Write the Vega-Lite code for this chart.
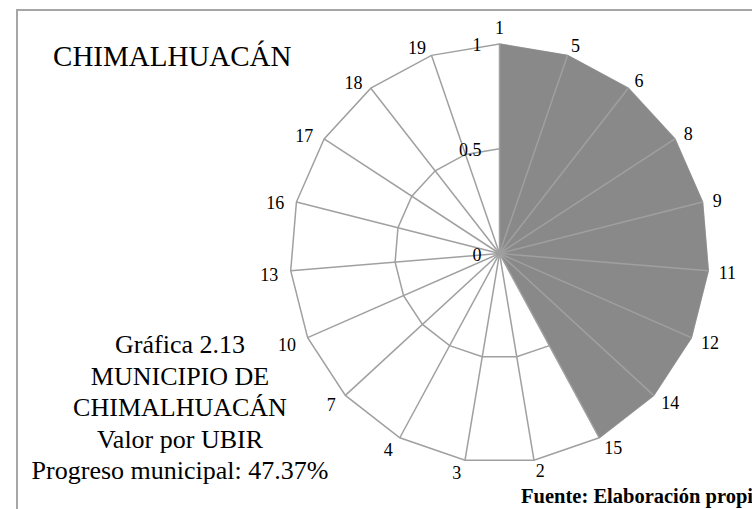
{
  "$schema": "https://vega.github.io/schema/vega-lite/v6.json",
  "width": 740,
  "height": 505,
  "autosize": {"type": "none"},
  "padding": {"left": 17, "top": 10, "right": 0, "bottom": 0},
  "background": "white",
  "config": {
    "view": {"stroke": "#a6a6a6", "strokeWidth": 2},
    "font": "Liberation Serif"
  },
  "datasets": {
    "radar": [
      {"cat": "1", "idx": 0, "value": 1},
      {"cat": "5", "idx": 1, "value": 1},
      {"cat": "6", "idx": 2, "value": 1},
      {"cat": "8", "idx": 3, "value": 1},
      {"cat": "9", "idx": 4, "value": 1},
      {"cat": "11", "idx": 5, "value": 1},
      {"cat": "12", "idx": 6, "value": 1},
      {"cat": "14", "idx": 7, "value": 1},
      {"cat": "15", "idx": 8, "value": 1},
      {"cat": "2", "idx": 9, "value": 0},
      {"cat": "3", "idx": 10, "value": 0},
      {"cat": "4", "idx": 11, "value": 0},
      {"cat": "7", "idx": 12, "value": 0},
      {"cat": "10", "idx": 13, "value": 0},
      {"cat": "13", "idx": 14, "value": 0},
      {"cat": "16", "idx": 15, "value": 0},
      {"cat": "17", "idx": 16, "value": 0},
      {"cat": "18", "idx": 17, "value": 0},
      {"cat": "19", "idx": 18, "value": 0}
    ],
    "ticks": [{"tick": 0}, {"tick": 0.5}, {"tick": 1}],
    "notes": [{"title": "CHIMALHUACÁN", "source": "Fuente: Elaboración propia", "block": ["Gráfica 2.13", "MUNICIPIO DE", "CHIMALHUACÁN", "Valor por UBIR", "Progreso municipal: 47.37%"]}]
  },
  "layer": [
    {
      "data": {"name": "radar"},
      "transform": [
        {"calculate": "2*PI*datum.idx/19", "as": "a"},
        {"calculate": "0.5*sin(datum.a)", "as": "px"},
        {"calculate": "0.5*cos(datum.a)", "as": "py"}
      ],
      "mark": {"type": "line", "interpolate": "linear-closed", "stroke": "#a0a0a0", "strokeWidth": 1.5},
      "encoding": {
        "x": {"field": "px", "type": "quantitative", "scale": {"domain": [-2.3031, 1.2291], "nice": false, "zero": false}, "axis": null},
        "y": {"field": "py", "type": "quantitative", "scale": {"domain": [-1.2482, 1.1623], "nice": false, "zero": false}, "axis": null},
        "order": {"field": "idx", "type": "quantitative"}
      }
    },
    {
      "data": {"name": "radar"},
      "transform": [
        {"calculate": "2*PI*datum.idx/19", "as": "a"},
        {"calculate": "sin(datum.a)", "as": "px"},
        {"calculate": "cos(datum.a)", "as": "py"}
      ],
      "mark": {"type": "line", "interpolate": "linear-closed", "stroke": "#a0a0a0", "strokeWidth": 1.5},
      "encoding": {
        "x": {"field": "px", "type": "quantitative", "scale": {"domain": [-2.3031, 1.2291], "nice": false, "zero": false}, "axis": null},
        "y": {"field": "py", "type": "quantitative", "scale": {"domain": [-1.2482, 1.1623], "nice": false, "zero": false}, "axis": null},
        "order": {"field": "idx", "type": "quantitative"}
      }
    },
    {
      "data": {"name": "radar"},
      "transform": [
        {"calculate": "2*PI*datum.idx/19", "as": "a"},
        {"calculate": "datum.value*sin(datum.a)", "as": "px"},
        {"calculate": "datum.value*cos(datum.a)", "as": "py"}
      ],
      "mark": {"type": "line", "interpolate": "linear-closed", "fill": "#898989", "stroke": "#898989", "strokeWidth": 0.5},
      "encoding": {
        "x": {"field": "px", "type": "quantitative", "scale": {"domain": [-2.3031, 1.2291], "nice": false, "zero": false}, "axis": null},
        "y": {"field": "py", "type": "quantitative", "scale": {"domain": [-1.2482, 1.1623], "nice": false, "zero": false}, "axis": null},
        "order": {"field": "idx", "type": "quantitative"}
      }
    },
    {
      "data": {"name": "radar"},
      "transform": [
        {"calculate": "2*PI*datum.idx/19", "as": "a"},
        {"calculate": "sin(datum.a)", "as": "px"},
        {"calculate": "cos(datum.a)", "as": "py"},
        {"calculate": "0", "as": "cx"}
      ],
      "mark": {"type": "rule", "stroke": "#a0a0a0", "strokeWidth": 1.5},
      "encoding": {
        "x": {"field": "cx", "type": "quantitative", "scale": {"domain": [-2.3031, 1.2291], "nice": false, "zero": false}, "axis": null},
        "y": {"field": "cx", "type": "quantitative", "scale": {"domain": [-1.2482, 1.1623], "nice": false, "zero": false}, "axis": null},
        "x2": {"field": "px"},
        "y2": {"field": "py"}
      }
    },
    {
      "data": {"name": "radar"},
      "transform": [
        {"calculate": "2*PI*datum.idx/19", "as": "a"},
        {"calculate": "1.05*sin(datum.a)", "as": "lx"},
        {"calculate": "1.05*cos(datum.a)", "as": "ly"},
        {"filter": "datum.idx >= 1 && datum.idx <= 9"}
      ],
      "mark": {"type": "text", "font": "Liberation Serif", "align": "left", "baseline": "middle", "fontSize": 18, "dy": 2},
      "encoding": {
        "x": {"field": "lx", "type": "quantitative", "scale": {"domain": [-2.3031, 1.2291], "nice": false, "zero": false}, "axis": null},
        "y": {"field": "ly", "type": "quantitative", "scale": {"domain": [-1.2482, 1.1623], "nice": false, "zero": false}, "axis": null},
        "text": {"field": "cat", "type": "nominal"}
      }
    },
    {
      "data": {"name": "radar"},
      "transform": [
        {"calculate": "2*PI*datum.idx/19", "as": "a"},
        {"calculate": "1.05*sin(datum.a)", "as": "lx"},
        {"calculate": "1.05*cos(datum.a)", "as": "ly"},
        {"filter": "datum.idx >= 10"}
      ],
      "mark": {"type": "text", "font": "Liberation Serif", "align": "right", "baseline": "middle", "fontSize": 18, "dy": 4, "dx": -2},
      "encoding": {
        "x": {"field": "lx", "type": "quantitative", "scale": {"domain": [-2.3031, 1.2291], "nice": false, "zero": false}, "axis": null},
        "y": {"field": "ly", "type": "quantitative", "scale": {"domain": [-1.2482, 1.1623], "nice": false, "zero": false}, "axis": null},
        "text": {"field": "cat", "type": "nominal"}
      }
    },
    {
      "data": {"name": "radar"},
      "transform": [
        {"calculate": "2*PI*datum.idx/19", "as": "a"},
        {"calculate": "1.05*sin(datum.a)", "as": "lx"},
        {"calculate": "1.05*cos(datum.a)", "as": "ly"},
        {"filter": "datum.idx == 0"}
      ],
      "mark": {"type": "text", "font": "Liberation Serif", "align": "center", "baseline": "middle", "fontSize": 18, "dy": -5},
      "encoding": {
        "x": {"field": "lx", "type": "quantitative", "scale": {"domain": [-2.3031, 1.2291], "nice": false, "zero": false}, "axis": null},
        "y": {"field": "ly", "type": "quantitative", "scale": {"domain": [-1.2482, 1.1623], "nice": false, "zero": false}, "axis": null},
        "text": {"field": "cat", "type": "nominal"}
      }
    },
    {
      "data": {"name": "ticks"},
      "transform": [{"calculate": "0", "as": "cx"}],
      "mark": {"type": "text", "font": "Liberation Serif", "align": "right", "baseline": "middle", "fontSize": 18, "dx": -18, "dy": 2},
      "encoding": {
        "x": {"field": "cx", "type": "quantitative", "scale": {"domain": [-2.3031, 1.2291], "nice": false, "zero": false}, "axis": null},
        "y": {"field": "tick", "type": "quantitative", "scale": {"domain": [-1.2482, 1.1623], "nice": false, "zero": false}, "axis": null},
        "text": {"field": "tick", "type": "quantitative"}
      }
    },
    {
      "data": {"name": "notes"},
      "mark": {"type": "text", "font": "Liberation Serif", "align": "left", "baseline": "middle", "fontSize": 29},
      "encoding": {
        "x": {"datum": -2.131, "type": "quantitative", "scale": {"domain": [-2.3031, 1.2291], "nice": false, "zero": false}, "axis": null},
        "y": {"datum": 0.938, "type": "quantitative", "scale": {"domain": [-1.2482, 1.1623], "nice": false, "zero": false}, "axis": null},
        "text": {"field": "title", "type": "nominal"}
      }
    },
    {
      "data": {"name": "notes"},
      "mark": {"type": "text", "font": "Liberation Serif", "align": "center", "baseline": "middle", "fontSize": 26, "lineHeight": 31.5},
      "encoding": {
        "x": {"datum": -1.525, "type": "quantitative", "scale": {"domain": [-2.3031, 1.2291], "nice": false, "zero": false}, "axis": null},
        "y": {"datum": -0.437, "type": "quantitative", "scale": {"domain": [-1.2482, 1.1623], "nice": false, "zero": false}, "axis": null},
        "text": {"field": "block", "type": "nominal"}
      }
    },
    {
      "data": {"name": "notes"},
      "mark": {"type": "text", "font": "Liberation Serif", "align": "left", "baseline": "alphabetic", "fontSize": 20.5, "fontWeight": "bold"},
      "encoding": {
        "x": {"datum": 0.103, "type": "quantitative", "scale": {"domain": [-2.3031, 1.2291], "nice": false, "zero": false}, "axis": null},
        "y": {"datum": -1.19, "type": "quantitative", "scale": {"domain": [-1.2482, 1.1623], "nice": false, "zero": false}, "axis": null},
        "text": {"field": "source", "type": "nominal"}
      }
    }
  ]
}
